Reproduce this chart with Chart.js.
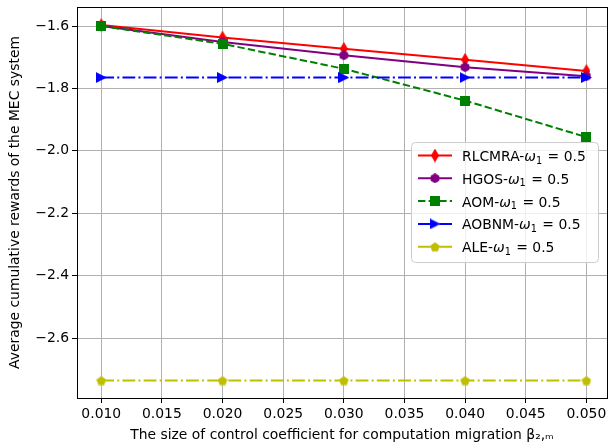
<!DOCTYPE html>
<html>
<head>
<meta charset="utf-8">
<script src="https://cdn.jsdelivr.net/npm/chart.js@4/dist/chart.umd.min.js"></script>
<style>
html,body{margin:0;padding:0;background:#fff;}
#wrap{width:610px;height:446px;position:relative;}
</style>
</head>
<body>
<div id="wrap"><canvas id="c" width="610" height="446"></canvas></div>
<script>
// ---- data ----
const xValues = [0.010, 0.020, 0.030, 0.040, 0.050];
const rlcmra = [-1.597, -1.637, -1.673, -1.708, -1.744];
const hgos   = [-1.600, -1.651, -1.694, -1.732, -1.761];
const aom    = [-1.600, -1.657, -1.737, -1.839, -1.956];
const aobnm  = [-1.765, -1.765, -1.765, -1.765, -1.765];
const ale    = [-2.736, -2.736, -2.736, -2.736, -2.736];
const seriesPrefixes = ['RLCMRA-', 'HGOS-', 'AOM-', 'AOBNM-', 'ALE-'];
const seriesNames = seriesPrefixes.map(p => p + 'ω₁ = 0.5');
const xTicks = [0.010, 0.015, 0.020, 0.025, 0.030, 0.035, 0.040, 0.045, 0.050];
const yTicks = [-2.6, -2.4, -2.2, -2.0, -1.8, -1.6];
const xTitle = 'The size of control coefficient for computation migration β₂,ₘ';
const yTitle = 'Average cumulative rewards of the MEC system';

const FONT = '"DejaVu Sans", sans-serif';
const FS = 13.9;

function marker(kind, color, w, h) {
  const cv = document.createElement('canvas');
  cv.width = w; cv.height = h;
  const g = cv.getContext('2d');
  g.fillStyle = color;
  g.beginPath();
  const cx = w / 2, cy = h / 2;
  if (kind === 'thin') {
    g.moveTo(cx, 0); g.lineTo(w, cy); g.lineTo(cx, h); g.lineTo(0, cy);
  } else if (kind === 'square') {
    g.rect(0, 0, w, h);
  } else if (kind === 'right') {
    g.moveTo(w, cy); g.lineTo(0, 0); g.lineTo(0, h);
  } else {
    const n = kind === 'hex' ? 6 : 5;
    const r = w / 2;
    for (let i = 0; i < n; i++) {
      const a = -Math.PI / 2 + i * 2 * Math.PI / n;
      const px = cx + r * Math.cos(a), py = cy + r * Math.sin(a) + (n === 5 ? r * 0.1 : 0);
      if (i === 0) g.moveTo(px, py); else g.lineTo(px, py);
    }
  }
  g.closePath();
  g.fill();
  return cv;
}

const styles = [
  {color: '#ff0000', dash: [], pt: marker('thin', '#ff0000', 8, 14)},
  {color: '#800080', dash: [], pt: marker('hex', '#800080', 10, 10)},
  {color: '#008000', dash: [7.4, 3.2], pt: marker('square', '#008000', 10, 10)},
  {color: '#0000ff', dash: [12.8, 3.2, 2, 3.2], pt: marker('right', '#0000ff', 11, 11)},
  {color: '#bfbf00', dash: [12.8, 3.2, 2, 3.2], pt: marker('pent', '#bfbf00', 10, 10)}
];
const allSeries = [rlcmra, hgos, aom, aobnm, ale];

const datasets = allSeries.map((s, i) => ({
  label: seriesNames[i],
  data: xValues.map((x, j) => ({x: x, y: s[j]})),
  borderColor: styles[i].color,
  backgroundColor: styles[i].color,
  borderWidth: 2,
  borderDash: styles[i].dash,
  pointStyle: styles[i].pt,
  pointRadius: 5,
  pointHoverRadius: 5,
  tension: 0,
  order: 5 - i
}));

const AREA_RIGHT = 607;

const fixAreaPlugin = {
  id: 'fixArea',
  afterLayout(chart) {
    const xs = chart.scales.x;
    chart.chartArea.right = AREA_RIGHT;
    chart.chartArea.width = AREA_RIGHT - chart.chartArea.left;
    xs.right = AREA_RIGHT;
    xs.width = AREA_RIGHT - xs.left;
    xs.configure();
  }
};

const framePlugin = {
  id: 'frameLegend',
  afterDatasetsDraw(chart) {
    const ctx = chart.ctx;
    const a = chart.chartArea;
    ctx.save();
    ctx.strokeStyle = '#000';
    ctx.lineWidth = 1;
    ctx.setLineDash([]);
    ctx.strokeRect(Math.round(a.left) + 0.5, Math.round(a.top) + 0.5, Math.round(a.right - a.left), Math.round(a.bottom - a.top));
    const lx = 411, ly = 142, lw = 187, lh = 120, r = 4;
    ctx.globalAlpha = 0.8;
    ctx.fillStyle = '#fff';
    ctx.beginPath();
    ctx.roundRect(lx + 0.5, ly + 0.5, lw, lh, r);
    ctx.fill();
    ctx.globalAlpha = 1;
    ctx.strokeStyle = '#cccccc';
    ctx.lineWidth = 1;
    ctx.stroke();
    ctx.textBaseline = 'alphabetic';
    ctx.textAlign = 'left';
    for (let i = 0; i < 5; i++) {
      const y = 155.5 + i * 22.8;
      ctx.strokeStyle = styles[i].color;
      ctx.lineWidth = 2;
      ctx.setLineDash(styles[i].dash);
      ctx.beginPath();
      ctx.moveTo(418, y); ctx.lineTo(452, y);
      ctx.stroke();
      ctx.setLineDash([]);
      const p = styles[i].pt;
      ctx.drawImage(p, 435 - p.width / 2, y - p.height / 2);
      ctx.fillStyle = '#000';
      const base = y + 5.5;
      let x = 462;
      ctx.font = FS + 'px ' + FONT;
      ctx.fillText(seriesPrefixes[i], x, base);
      x += ctx.measureText(seriesPrefixes[i]).width;
      ctx.font = 'italic ' + FS + 'px ' + FONT;
      ctx.fillText('ω', x, base);
      x += ctx.measureText('ω').width;
      ctx.font = (FS * 0.7) + 'px ' + FONT;
      ctx.fillText('1', x, base + 2.5);
      x += ctx.measureText('1').width;
      ctx.font = FS + 'px ' + FONT;
      ctx.fillText(' = 0.5', x + 1, base);
    }
    ctx.restore();
  }
};

new Chart(document.getElementById('c'), {
  type: 'line',
  data: {datasets},
  options: {
    responsive: false,
    animation: false,
    devicePixelRatio: 1,
    layout: {padding: {left: 0, right: 3, top: 6, bottom: 0}},
    plugins: {legend: {display: false}, tooltip: {enabled: false}},
    scales: {
      x: {
        type: 'linear',
        min: 0.008, max: 0.0517,
        afterBuildTicks: s => { s.ticks = xTicks.map(v => ({value: v})); },
        afterFit: s => { s.height = 48; s.paddingLeft = 0; s.paddingRight = 0; },
        ticks: {
          color: '#000', font: {family: FONT, size: FS}, padding: 3,
          maxRotation: 0, autoSkip: false,
          callback: v => v.toFixed(3)
        },
        grid: {color: '#b0b0b0', lineWidth: 1, tickColor: '#000', tickLength: 5, drawOnChartArea: true},
        border: {display: false},
        title: {display: true, text: xTitle, color: '#000', font: {family: FONT, size: FS}, padding: {top: 0, bottom: 2}}
      },
      y: {
        type: 'linear',
        min: -2.792, max: -1.539,
        afterBuildTicks: s => { s.ticks = yTicks.map(v => ({value: v})); },
        afterFit: s => { s.width = 77; s.paddingTop = 0; s.paddingBottom = 0; },
        ticks: {
          color: '#000', font: {family: FONT, size: FS}, padding: 3,
          callback: v => '\u2212' + Math.abs(v).toFixed(1)
        },
        grid: {color: '#b0b0b0', lineWidth: 1, tickColor: '#000', tickLength: 5},
        border: {display: false},
        title: {display: true, text: yTitle, color: '#000', font: {family: FONT, size: FS}, padding: {top: 7, bottom: 2}}
      }
    }
  },
  plugins: [fixAreaPlugin, framePlugin]
});
</script>
</body>
</html>
